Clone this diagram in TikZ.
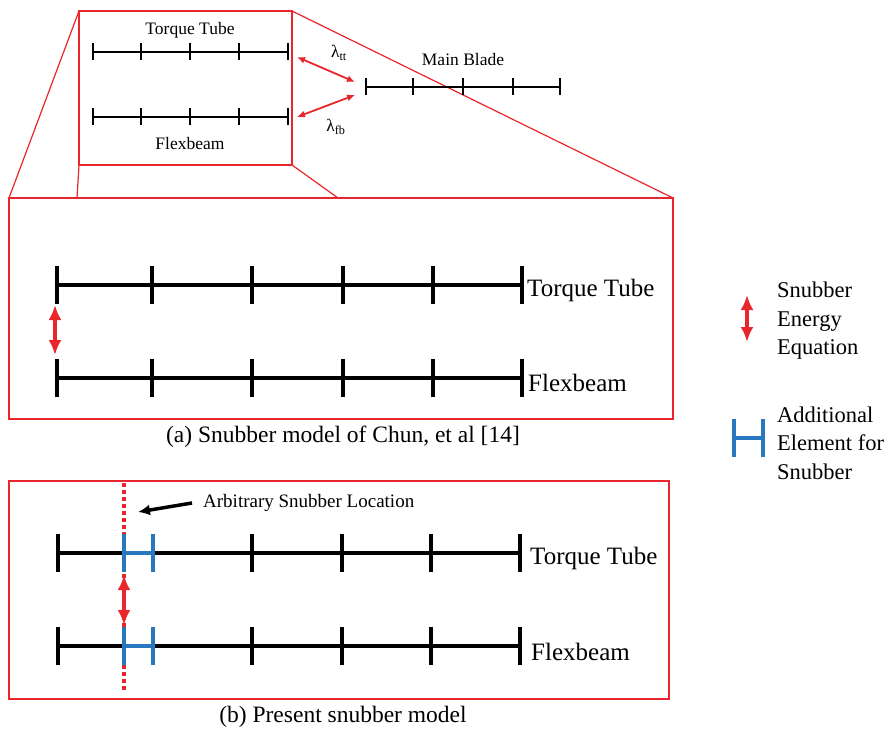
\documentclass[tikz,border=0pt]{standalone}
\usepackage{fontspec}
\setmainfont{LiberationSerif}[Extension=.ttf, UprightFont=*-Regular, BoldFont=*-Bold, ItalicFont=*-Italic, BoldItalicFont=*-BoldItalic]
\usetikzlibrary{arrows.meta, positioning, calc}
\definecolor{mRed}{HTML}{E8262B}
\definecolor{mBlue}{HTML}{2878C0}

\begin{document}
\begin{tikzpicture}[x=1pt, y=-1pt,
    frame/.style={draw=mRed, line width=1.3pt, inner sep=0pt, outer sep=0pt},
    zoomline/.style={mRed, line width=1.2pt},
    thinbeam/.style={line width=2.3pt},
    thickbeam/.style={line width=4.5pt},
    coupling/.style={mRed, line width=1.8pt, {Latex[length=8pt,width=7pt]}-{Latex[length=8pt,width=7pt]}},
    snubarrow/.style={mRed, line width=3.5pt, {Latex[length=15pt,width=13pt]}-{Latex[length=15pt,width=13pt]}},
    small/.style={font=\fontsize{17.5}{21}\selectfont},
    big/.style={font=\fontsize{25}{30}\selectfont, anchor=west, inner sep=0pt},
    caption/.style={font=\fontsize{23.5}{28}\selectfont},
    legend/.style={font=\fontsize{22.5}{28.5}\selectfont, align=left, anchor=west, inner sep=0pt}]
  \useasboundingbox (0,0) rectangle (891,730);

  % frames
  \node[frame, minimum width=213pt, minimum height=154pt] (sbox) at (185.5,88) {};
  \node[frame, minimum width=664pt, minimum height=221pt] (abox) at (341,308.5) {};
  \node[frame, minimum width=660pt, minimum height=218pt] (bbox) at (339,590) {};
  \coordinate (zl) at (77,198);
  \coordinate (zr) at (338,198);
  \draw[zoomline] (sbox.north west) -- (abox.north west);
  \draw[zoomline] (sbox.north east) -- (abox.north east);
  \draw[zoomline] (sbox.south west) -- (zl);
  \draw[zoomline] (sbox.south east) -- (zr);

  % small beams
  \foreach \y in {52,117} {
    \draw[thinbeam] (93,\y) -- (288,\y);
    \foreach \x in {93,141,190,239,288} \draw[thinbeam] (\x,\y-8.5) -- (\x,\y+8.5);
  }
  \draw[thinbeam] (366,87) -- (560,87);
  \foreach \x in {366,413,463,513,560} \draw[thinbeam] (\x,78.5) -- (\x,95.5);
  \node[small] (tts) at (190,30) {Torque Tube};
  \node[small] (fbs) at (190,144) {Flexbeam};
  \node[small] (mb) at (463,60) {Main Blade};
  \node[small] (ltt) at (339,53) {λ\textsubscript{tt}};
  \node[small] (lfb) at (336,127) {λ\textsubscript{fb}};
  \coordinate (ttend) at (297,57);
  \coordinate (fbend) at (297,117);
  \coordinate (mbend1) at (355,82);
  \coordinate (mbend2) at (355,95);
  \draw[coupling] (ttend) -- (mbend1);
  \draw[coupling] (fbend) -- (mbend2);

  % (a)
  \foreach \y in {285,378} {
    \draw[thickbeam] (57,\y) -- (522,\y);
    \foreach \x in {57,152,252,343,433,522} \draw[thickbeam] (\x,\y-19) -- (\x,\y+19);
  }
  \node[big] (tta) at (527,290) {Torque Tube};
  \node[big] (fba) at (528,383) {Flexbeam};
  \coordinate (sa1) at (55,305);
  \coordinate (sa2) at (55,355);
  \draw[snubarrow] (sa1) -- (sa2);
  \node[caption] (capa) at (343,437) {(a) Snubber model of Chun, et al [14]};

  % (b)
  \coordinate (dtop) at (124,483);
  \coordinate (dbot) at (124,692);
  \draw[mRed, line width=3.5pt, dash pattern=on 4pt off 3pt] (dtop) -- (dbot);
  \foreach \y in {553,646} {
    \draw[thickbeam] (58,\y) -- (124,\y);
    \draw[thickbeam] (153,\y) -- (520,\y);
    \draw[thickbeam, mBlue] (124,\y) -- (153,\y);
    \foreach \x in {58,252,342,431,520} \draw[thickbeam] (\x,\y-19) -- (\x,\y+19);
    \foreach \x in {124,153} \draw[thickbeam, mBlue] (\x,\y-19) -- (\x,\y+19);
  }
  \node[big] (ttb) at (530,558) {Torque Tube};
  \node[big] (fbb) at (531,652) {Flexbeam};
  \coordinate (sb1) at (124,575);
  \coordinate (sb2) at (124,625);
  \draw[snubarrow] (sb1) -- (sb2);
  \node[anchor=west, inner sep=0pt, font=\fontsize{19}{23}\selectfont] (loc) at (203,503) {Arbitrary Snubber Location};
  \coordinate (loctip) at (138,512);
  \draw[line width=3.5pt, -{Latex[length=12pt,width=11pt]}] ([xshift=-11pt]loc.west) -- (loctip);
  \node[caption] (capb) at (343,717) {(b) Present snubber model};

  % legend
  \coordinate (l1) at (747,295);
  \coordinate (l2) at (747,342);
  \draw[snubarrow] (l1) -- (l2);
  \node[legend] (leg1) at (777,321) {Snubber\\Energy\\Equation};
  \draw[thickbeam, mBlue] (734,419) -- (734,457) (734,438) -- (763,438) (763,419) -- (763,457);
  \node[legend] (leg2) at (777,443) {Additional\\Element for\\Snubber};
\end{tikzpicture}
\end{document}
